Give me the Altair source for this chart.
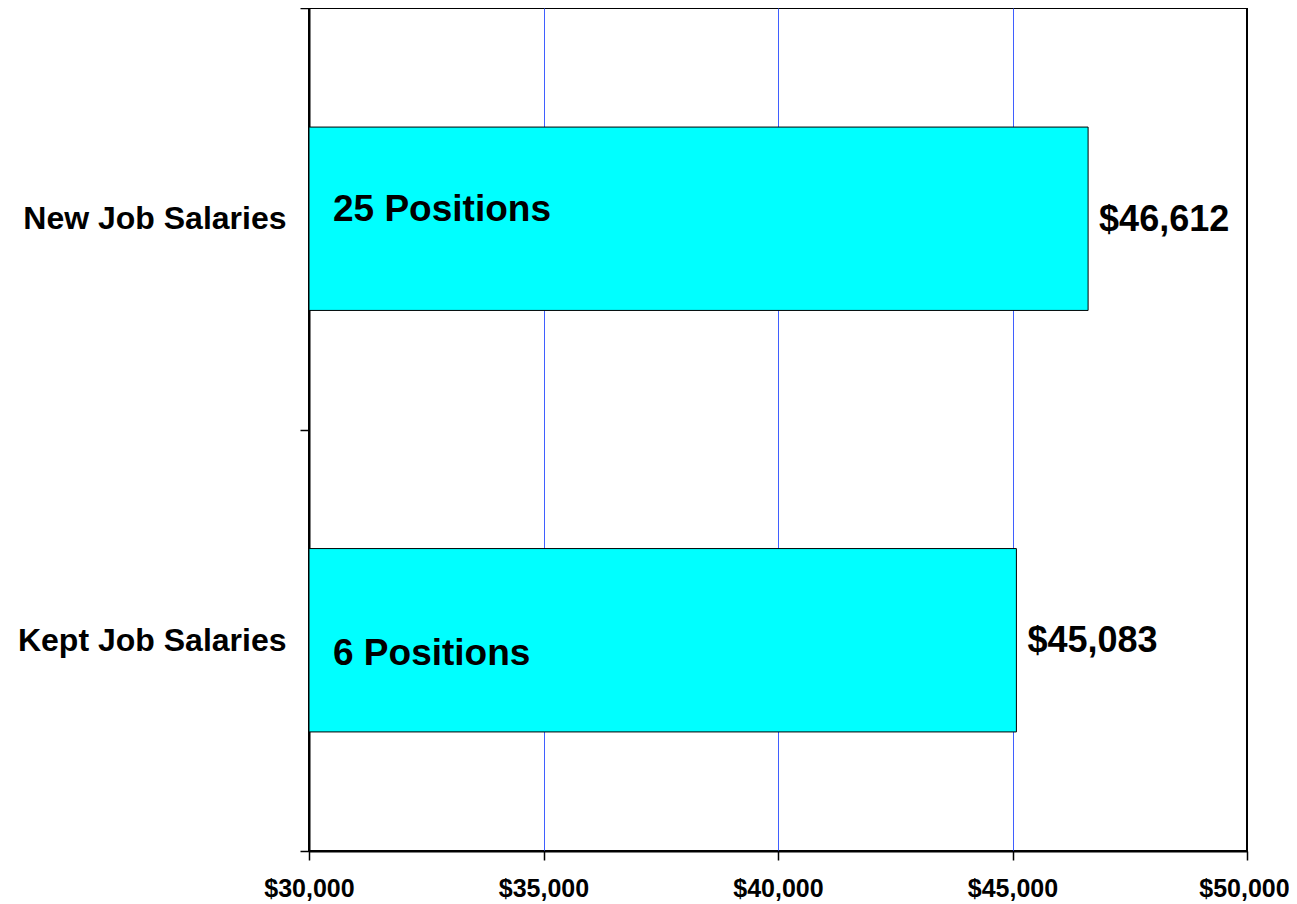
import altair as alt
import pandas as pd

categories = ["New Job Salaries", "Kept Job Salaries"]
salaries = [46612, 45083]
positions = ["25 Positions", "6 Positions"]
value_labels = ["$46,612", "$45,083"]
x_ticks = [30000, 35000, 40000, 45000, 50000]
x_domain = [30000, 50000]

df = pd.DataFrame({
    "category": categories,
    "salary": salaries,
    "positions": positions,
    "label": value_labels,
})

FONT = "Liberation Sans"

y_enc = alt.Y(
    "category:N", sort=categories, title=None,
    scale=alt.Scale(paddingInner=0, paddingOuter=0),
    axis=alt.Axis(
        labelFont=FONT, labelFontSize=32, labelFontWeight="bold", labelColor="black",
        labelLimit=0,
        tickBand="extent", tickSize=9, tickColor="black", tickWidth=1.5,
        domainColor="black", domainWidth=2, labelPadding=14, grid=False,
    ),
)

x_enc = alt.X(
    "salary:Q", title=None,
    scale=alt.Scale(domain=x_domain, nice=False, zero=False),
    axis=alt.Axis(
        values=x_ticks, format="$,.0f", labelFlush=False,
        labelFont=FONT, labelFontSize=25, labelFontWeight="bold", labelColor="black",
        labelOffset={"condition": {"test": "datum.value == 50000", "value": -3}, "value": 0},
        labelPadding=16, tickSize=9, tickColor="black", tickWidth=1.5,
        domainColor="black", domainWidth=2,
        grid=True, gridColor="#3f5fff", gridWidth=1,
        gridOpacity={"condition": {"test": "datum.value == 30000 || datum.value == 50000", "value": 0}, "value": 1},
    ),
)

base = alt.Chart(df)

bars = base.mark_bar(
    color="#00ffff", stroke="black", strokeWidth=1,
    height=alt.RelativeBandSize(band=0.435),
).encode(
    x=x_enc,
    x2=alt.X2Datum(30000),
    y=y_enc,
)

pos_new = base.transform_filter(alt.datum.category == categories[0]).mark_text(
    align="left", baseline="middle", font=FONT, fontSize=37, fontWeight="bold",
    color="black", dx=24, dy=-9,
).encode(
    x=alt.XDatum(30000),
    y=alt.Y("category:N", sort=categories),
    text="positions:N",
)

pos_kept = base.transform_filter(alt.datum.category == categories[1]).mark_text(
    align="left", baseline="middle", font=FONT, fontSize=37, fontWeight="bold",
    color="black", dx=24, dy=14,
).encode(
    x=alt.XDatum(30000),
    y=alt.Y("category:N", sort=categories),
    text="positions:N",
)

vals = base.mark_text(
    align="left", baseline="middle", font=FONT, fontSize=36, fontWeight="bold",
    color="black", dx=11, dy=1,
).encode(
    x="salary:Q",
    y=alt.Y("category:N", sort=categories),
    text="label:N",
)

chart = alt.layer(bars, pos_new, pos_kept, vals).properties(
    width=938, height=843,
    autosize=alt.AutoSizeParams(type="none"),
    padding={"left": 301, "top": 0, "right": 42, "bottom": 60},
).configure(background="white").configure_view(stroke="black", strokeWidth=2)

chart.save("out.html", embed_options={"renderer": "svg", "actions": False})
